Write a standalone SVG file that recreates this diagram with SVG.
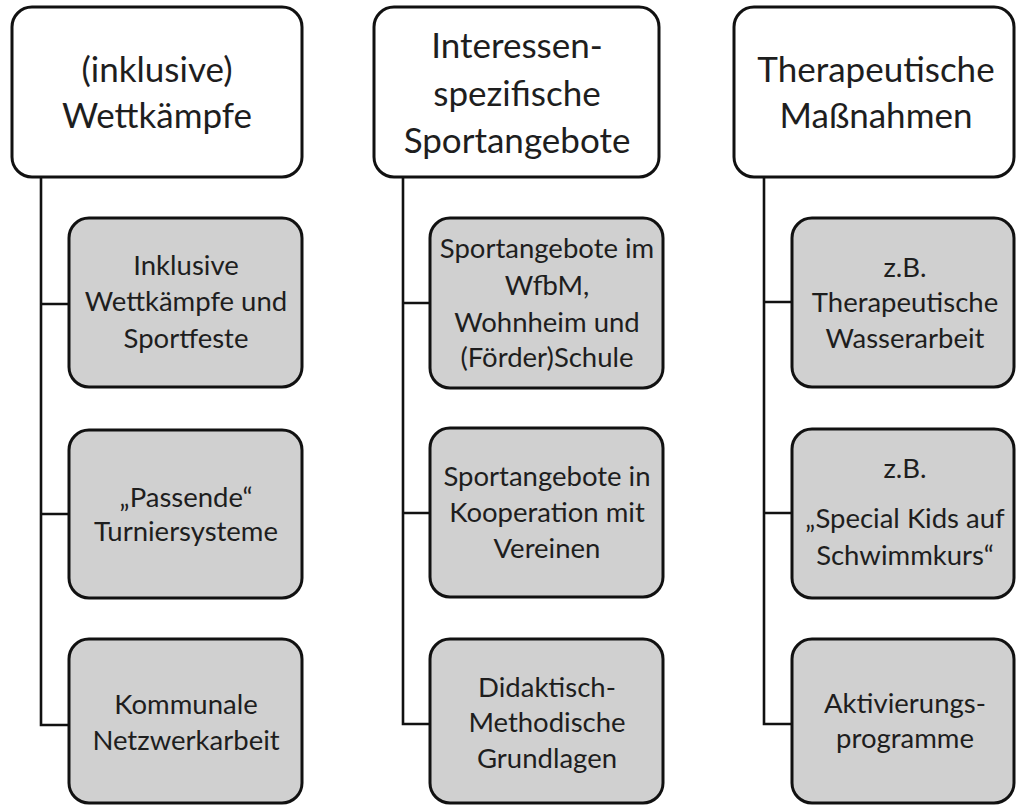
<svg xmlns="http://www.w3.org/2000/svg" width="1016" height="805" viewBox="0 0 1016 805">
<style>
.hdr{fill:#ffffff;stroke:#111111;stroke-width:3}
.sub{fill:#d0d0d0;stroke:#111111;stroke-width:3}
.conn{fill:none;stroke:#111111;stroke-width:2.6}
text{font-family:Lato,"Open Sans",sans-serif;fill:#1e1e1e;text-anchor:middle}
.ht{font-size:35px}
.st{font-size:27.5px}
</style>
<rect width="1016" height="805" fill="#ffffff"/>
<g id="connectors">
<path class="conn" d="M41,177 V725 H69 M41,304 H69 M41,514 H69"/>
<path class="conn" d="M403,177 V724 H430 M403,303 H430 M403,513 H430"/>
<path class="conn" d="M764,177 V724 H792 M764,302 H792 M764,513 H792"/>
</g>
<g id="h1"><rect class="hdr" x="12" y="7" width="290" height="170" rx="20"/>
<text class="ht" x="157" y="82">(inklusive)</text><text class="ht" x="157" y="128">Wettkämpfe</text></g>
<g id="c1a"><rect class="sub" x="69" y="218" width="233" height="169" rx="20"/>
<text class="st" x="186" y="275">Inklusive</text><text class="st" x="186" y="311">Wettkämpfe und</text><text class="st" x="186" y="348">Sportfeste</text></g>
<g id="c1b"><rect class="sub" x="69" y="430" width="233" height="168" rx="20"/>
<text class="st" x="186" y="507">„Passende“</text><text class="st" x="186" y="541">Turniersysteme</text></g>
<g id="c1c"><rect class="sub" x="69" y="639" width="233" height="164" rx="20"/>
<text class="st" x="186" y="714">Kommunale</text><text class="st" x="186" y="750">Netzwerkarbeit</text></g>
<g id="h2"><rect class="hdr" x="374" y="7" width="285" height="170" rx="20"/>
<text class="ht" x="517" y="58">Interessen-</text><text class="ht" x="517" y="106">spezifische</text><text class="ht" x="517" y="153">Sportangebote</text></g>
<g id="c2a"><rect class="sub" x="430" y="218" width="233" height="170" rx="20"/>
<text class="st" x="547" y="258">Sportangebote im</text><text class="st" x="547" y="295">WfbM,</text><text class="st" x="547" y="332">Wohnheim und</text><text class="st" x="547" y="367">(Förder)Schule</text></g>
<g id="c2b"><rect class="sub" x="430" y="428" width="233" height="169" rx="20"/>
<text class="st" x="547" y="486">Sportangebote in</text><text class="st" x="547" y="522">Kooperation mit</text><text class="st" x="547" y="558">Vereinen</text></g>
<g id="c2c"><rect class="sub" x="430" y="639" width="233" height="164" rx="20"/>
<text class="st" x="547" y="697">Didaktisch-</text><text class="st" x="547" y="732">Methodische</text><text class="st" x="547" y="768">Grundlagen</text></g>
<g id="h3"><rect class="hdr" x="734" y="7" width="280" height="170" rx="20"/>
<text class="ht" x="876" y="82">Therapeutische</text><text class="ht" x="876" y="128">Maßnahmen</text></g>
<g id="c3a"><rect class="sub" x="792" y="218" width="222" height="169" rx="20"/>
<text class="st" x="905" y="277">z.B.</text><text class="st" x="905" y="312">Therapeutische</text><text class="st" x="905" y="348">Wasserarbeit</text></g>
<g id="c3b"><rect class="sub" x="792" y="429" width="222" height="169" rx="20"/>
<text class="st" x="905" y="478">z.B.</text><text class="st" x="905" y="528">„Special Kids auf</text><text class="st" x="905" y="565">Schwimmkurs“</text></g>
<g id="c3c"><rect class="sub" x="792" y="639" width="222" height="164" rx="20"/>
<text class="st" x="905" y="713">Aktivierungs-</text><text class="st" x="905" y="748">programme</text></g>
</svg>
